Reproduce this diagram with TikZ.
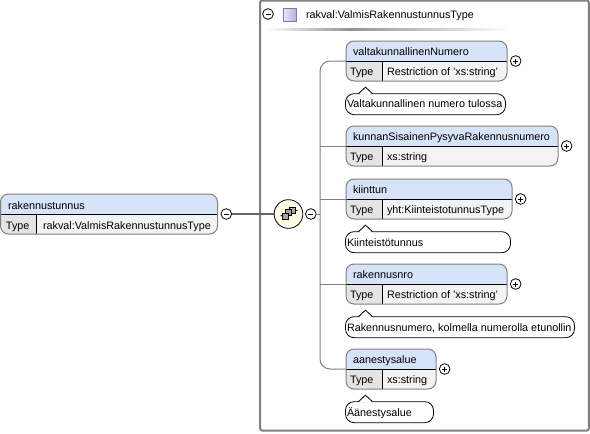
\documentclass[tikz,border=0pt]{standalone}
\usepackage{fontspec}
\setmainfont{Liberation Sans}
\usepackage{tikz}
\usetikzlibrary{positioning,calc}
\definecolor{titleblue}{HTML}{D6E3F8}
\definecolor{typegrey}{HTML}{E4E4E4}
\definecolor{valgrey}{HTML}{F3F3F3}
\definecolor{edgegrey}{HTML}{808080}
\definecolor{seqyellow}{HTML}{FFFFE6}
\definecolor{lavlight}{HTML}{ECE8FA}
\definecolor{lavdark}{HTML}{B8ACE2}
\begin{document}
\begin{tikzpicture}[x=0.75pt,y=-0.75pt,font=\fontsize{8.1}{10}\selectfont,
  elem/.style={draw=edgegrey,line width=0.75pt,fill=valgrey,rounded corners=6pt,
    minimum height=30pt,inner sep=0pt,outer sep=0pt,
    path picture={
      \fill[titleblue,sharp corners] (path picture bounding box.north west) rectangle (path picture bounding box.east);
      \fill[typegrey,sharp corners] (path picture bounding box.west) rectangle ($(path picture bounding box.south west)+(36,0)$);
      \draw[black,line width=0.6pt,sharp corners] (path picture bounding box.west) -- (path picture bounding box.east);
      \draw[black,line width=0.6pt,sharp corners] ($(path picture bounding box.west)+(36,0)$) -- ($(path picture bounding box.south west)+(36,0)$);
    }},
  note/.style={draw=black,line width=0.6pt,fill=white,rounded corners=6.5pt,minimum height=15.75pt,inner sep=0pt,outer sep=0pt},
  txt/.style={anchor=base west,inner sep=0pt,outer sep=0pt},
  btn/.style={draw=black,line width=0.6pt,fill=white,circle,minimum size=8pt,inner sep=0pt,outer sep=0pt},
  collapse/.style={btn,path picture={\draw[line width=0.6pt] ($(path picture bounding box.center)+(-2.5,0)$) -- ($(path picture bounding box.center)+(2.5,0)$);}},
  expand/.style={btn,path picture={\draw[line width=0.6pt] ($(path picture bounding box.center)+(-2.5,0)$) -- ($(path picture bounding box.center)+(2.5,0)$);
    \draw[line width=0.6pt] ($(path picture bounding box.center)+(0,-2.5)$) -- ($(path picture bounding box.center)+(0,2.5)$);}},
  conn/.style={draw=edgegrey,line width=0.75pt}]
  \useasboundingbox (0,0) rectangle (590,433);
  % type frame
  \node[draw=edgegrey,line width=1.5pt,rounded corners=1.5pt,minimum width=246.5pt,minimum height=322.5pt,inner sep=0pt] (frame) at (424.5,215.5) {};
  \node[collapse] (hdrbtn) at (268,14) {};
  \draw[draw=lavdark!70!black,line width=0.6pt,left color=lavlight,right color=lavdark] (283,8) rectangle (296,21);
  \node[txt] (hdrtxt) at (306,18) {rakval:ValmisRakennustunnusType};
  \shade[left color=white,right color=gray!85] (265,28) rectangle (350,30);
  \shade[left color=gray!85,right color=white] (350,28) rectangle (510,30);
  % outer element
  \node[elem,minimum width=162.75pt] (root) at (109,214) {};
  \node[txt] (roottitle) at (8,209.5) {rakennustunnus};
  \node[txt] (roottype) at (6,229) {Type};
  \node[txt] (rootval) at (43,229) {rakval:ValmisRakennustunnusType};
  \node[collapse,right=2.6pt of root] (rootbtn) {};
  % sequence
  \node[draw=black,line width=0.6pt,fill=seqyellow,circle,minimum size=21.5pt,inner sep=0pt,outer sep=0pt] (seq) at (288.5,214) {};
  \draw[draw=edgegrey!80!black,line width=2.2pt] (rootbtn) -- (seq);
  \draw[line width=0.6pt] ($(seq)+(-8,2)$) -- ($(seq)+(9,-4)$);
  \foreach \dx/\dy in {3.5/-4,0/-1.5,-3.5/2}
    \draw[fill=gray!70,line width=0.5pt] ($(seq)+(\dx,\dy)+(-3,-3)$) rectangle ($(seq)+(\dx,\dy)+(3,3)$);
  \node[collapse,right=2pt of seq] (seqbtn) {};
  \coordinate (trunk) at (320,214);
  \draw[conn] (seqbtn) -- (trunk);
  % children
  \node[elem,minimum width=120.75pt] (valt) at (426.5,61) {};
  \node[elem,minimum width=159pt] (kunnan) at (452,146) {};
  \node[elem,minimum width=124.5pt] (kiint) at (429,199) {};
  \node[elem,minimum width=120.75pt] (rak) at (426.5,284) {};
  \node[elem,minimum width=67.5pt] (aanes) at (391,369) {};
  \draw[conn,rounded corners=7.5pt] (valt.west) -- (valt.west -| trunk) -- (aanes.west -| trunk) -- (aanes.west);
  \draw[conn] (kunnan.west) -- (kunnan.west -| trunk);
  \draw[conn] (kiint.west) -- (kiint.west -| trunk);
  \draw[conn] (rak.west) -- (rak.west -| trunk);
  \node[txt] (valttitle) at (353,55.5) {valtakunnallinenNumero};
  \node[txt] (valttype) at (350,75.5) {Type};
  \node[txt] (valtval) at (387,75.5) {Restriction of 'xs:string'};
  \node[txt] (kunnantitle) at (353,140.5) {kunnanSisainenPysyvaRakennusnumero};
  \node[txt] (kunnantype) at (350,160.5) {Type};
  \node[txt] (kunnanval) at (387,160.5) {xs:string};
  \node[txt] (kiinttitle) at (353,193.5) {kiinttun};
  \node[txt] (kiinttype) at (350,213.5) {Type};
  \node[txt] (kiintval) at (387,213.5) {yht:KiinteistotunnusType};
  \node[txt] (raktitle) at (353,278.5) {rakennusnro};
  \node[txt] (raktype) at (350,298.5) {Type};
  \node[txt] (rakval) at (387,298.5) {Restriction of 'xs:string'};
  \node[txt] (aanestitle) at (353,363.5) {aanestysalue};
  \node[txt] (aanestype) at (350,383.5) {Type};
  \node[txt] (aanesval) at (387,383.5) {xs:string};
  \node[expand,right=2.5pt of valt] (valtbtn) {};
  \node[expand,right=2.5pt of kunnan] (kunnanbtn) {};
  \node[expand,right=2.5pt of kiint] (kiintbtn) {};
  \node[expand,right=2.5pt of rak] (rakbtn) {};
  \node[expand,right=2.5pt of aanes] (aanesbtn) {};
  % annotations
  \node[note,minimum width=120pt,below right=9.5pt and -0.4pt of valt.south west] (valtnote) {};
  \node[note,minimum width=123.75pt,below right=9.5pt and -0.4pt of kiint.south west] (kiintnote) {};
  \node[note,minimum width=171.75pt,below right=9.5pt and -0.4pt of rak.south west] (raknote) {};
  \node[note,minimum width=66pt,below right=9.5pt and -0.4pt of aanes.south west] (aanesnote) {};
  \foreach \n in {valtnote,kiintnote,raknote,aanesnote}{
    \fill[white] ($(\n.north west)+(13,1)$) -- ($(\n.north west)+(20,-6.5)$) -- ($(\n.north west)+(27,1)$) -- cycle;
    \draw[line width=0.6pt] ($(\n.north west)+(13,0)$) -- ($(\n.north west)+(20,-6.5)$) -- ($(\n.north west)+(27,0)$);
  }
  \node[txt] at (347,107) (valtnotetxt) {Valtakunnallinen numero tulossa};
  \node[txt] at (347,246.5) (kiintnotetxt) {Kiinteistötunnus};
  \node[txt] at (347,331.5) (raknotetxt) {Rakennusnumero, kolmella numerolla etunollin};
  \node[txt] at (347,416.5) (aanesnotetxt) {Äänestysalue};
\end{tikzpicture}
\end{document}
